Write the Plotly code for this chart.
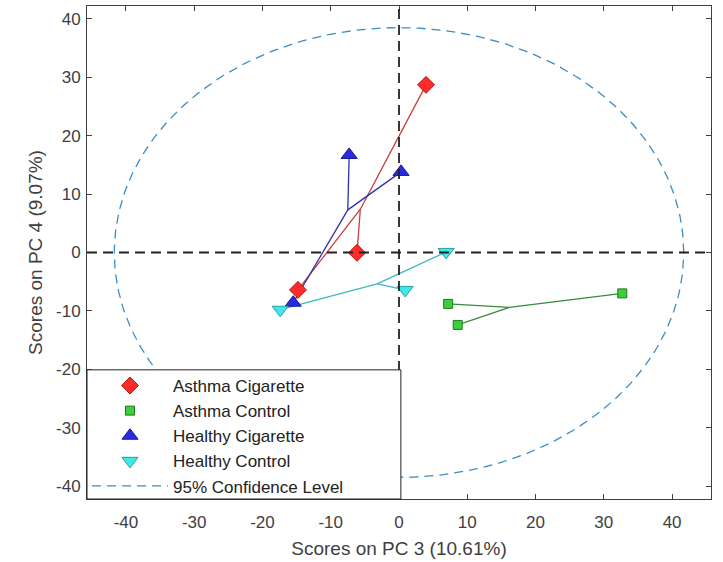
import numpy as np
import plotly.graph_objects as go

# ---- data ----
groups = ["Asthma Cigarette", "Asthma Control", "Healthy Cigarette", "Healthy Control"]
asthma_cig_x = [3.96, -6.15, -14.8]
asthma_cig_y = [28.7, -0.05, -6.4]
asthma_ctl_x = [7.2, 8.6, 32.7]
asthma_ctl_y = [-8.8, -12.4, -7.0]
healthy_cig_x = [-7.3, 0.3, -15.5]
healthy_cig_y = [16.7, 13.8, -8.6]
healthy_ctl_x = [6.9, 0.9, -17.4]
healthy_ctl_y = [0.1, -6.4, -9.8]

ellipse_rx = 41.7
ellipse_ry = 38.5
ellipse_label = "95% Confidence Level"

x_ticks = [-40, -30, -20, -10, 0, 10, 20, 30, 40]
x_tick_labels = ["-40", "-30", "-20", "-10", "0", "10", "20", "30", "40"]
y_ticks = [-40, -30, -20, -10, 0, 10, 20, 30, 40]
y_tick_labels = ["-40", "-30", "-20", "-10", "0", "10", "20", "30", "40"]
x_title = "Scores on PC 3 (10.61%)"
y_title = "Scores on PC 4 (9.07%)"

# ---- styles ----
styles = {
    "Asthma Cigarette": dict(symbol="diamond", size=13, fill="#ff2a2a", edge="#b01010", line="#c83c3c"),
    "Asthma Control": dict(symbol="square", size=9, fill="#3ccf3c", edge="#1f7a1f", line="#3a8a3a"),
    "Healthy Cigarette": dict(symbol="triangle-up", size=14, fill="#2a2ae6", edge="#18188a", line="#3030a8"),
    "Healthy Control": dict(symbol="triangle-down", size=14, fill="#40e8e8", edge="#20a0a8", line="#40b8c0"),
}
data = {
    "Asthma Cigarette": (asthma_cig_x, asthma_cig_y),
    "Asthma Control": (asthma_ctl_x, asthma_ctl_y),
    "Healthy Cigarette": (healthy_cig_x, healthy_cig_y),
    "Healthy Control": (healthy_ctl_x, healthy_ctl_y),
}

FONT = "Liberation Sans, Arial, sans-serif"
fig = go.Figure()

# ellipse
theta = np.linspace(0, 2 * np.pi, 361)
fig.add_trace(go.Scatter(
    x=ellipse_rx * np.cos(theta), y=ellipse_ry * np.sin(theta),
    mode="lines", name=ellipse_label,
    line=dict(color="#3a8ec4", width=1.3, dash="9px,6px"),
    legendrank=5,
))

# centroid lines
for g in groups:
    xs, ys = data[g]
    cx, cy = float(np.mean(xs)), float(np.mean(ys))
    lx, ly = [], []
    for x, y in zip(xs, ys):
        lx += [cx, x, None]
        ly += [cy, y, None]
    fig.add_trace(go.Scatter(x=lx, y=ly, mode="lines", showlegend=False,
                             line=dict(color=styles[g]["line"], width=1.3),
                             hoverinfo="skip"))

# markers
for i, g in enumerate(groups):
    xs, ys = data[g]
    s = styles[g]
    fig.add_trace(go.Scatter(
        x=xs, y=ys, mode="markers", name=g, legendrank=i + 1,
        marker=dict(symbol=s["symbol"], size=s["size"], color=s["fill"],
                    line=dict(color=s["edge"], width=1)),
    ))

# zero lines
fig.add_hline(y=0, line=dict(color="#222222", width=1.8, dash="10px,6px"))
fig.add_vline(x=0, line=dict(color="#222222", width=1.8, dash="10px,6px"))

# legend box
fig.add_shape(type="rect", xref="x domain", yref="y domain",
              x0=0, x1=0.503, y0=0, y1=0.262,
              line=dict(color="#222222", width=1), fillcolor="white", layer="above")

axis_common = dict(
    showgrid=False, zeroline=False, showline=True, mirror="ticks",
    linecolor="#404040", linewidth=1, ticks="inside", ticklen=5,
    tickcolor="#404040", tickfont=dict(family=FONT, size=17, color="#404040"),
    title_font=dict(family=FONT, size=19, color="#404040"),
    automargin=False,
)
fig.update_xaxes(range=[-45.7, 45.7], tickvals=x_ticks, ticktext=x_tick_labels,
                 ticklabelstandoff=8, title_text=x_title, title_standoff=10, **axis_common)
fig.update_yaxes(range=[-42.2, 42.2], tickvals=y_ticks, ticktext=y_tick_labels,
                 ticklabelstandoff=2, title_text=y_title, title_standoff=8, **axis_common)

fig.update_layout(
    width=723, height=562,
    margin=dict(l=87, r=12, t=6, b=63),
    plot_bgcolor="white", paper_bgcolor="white",
    font=dict(family=FONT, color="#222222"),
    showlegend=True,
    legend=dict(x=0.0, y=-0.0101, xanchor="left", yanchor="bottom",
                bgcolor="rgba(0,0,0,0)", borderwidth=0,
                font=dict(family=FONT, size=17, color="#222222"),
                itemwidth=76, tracegroupgap=0),
)

fig.write_html("out.html", config={"displayModeBar": False},
               post_script="document.body.style.margin='0';document.body.style.padding='0';")
